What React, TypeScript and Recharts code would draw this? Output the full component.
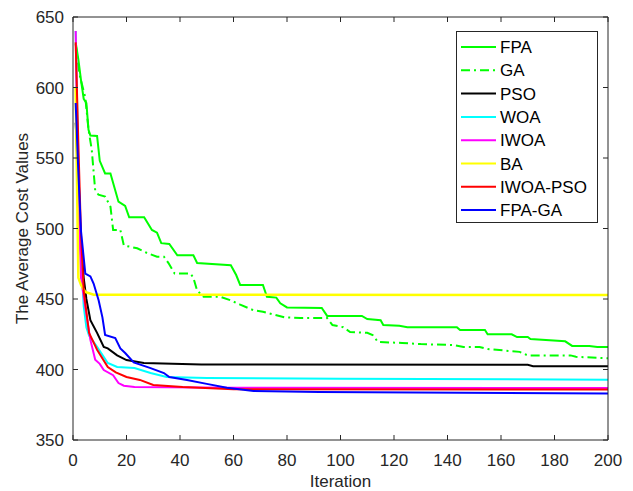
import React from 'react';
import { LineChart, Line, XAxis, YAxis, Legend } from 'recharts';

// iteration / average cost pairs
const FPA: [number, number][] = [
  [1, 632], [2, 620], [3, 605], [4, 592], [5, 589], [5.8, 570], [6.5, 566], [9, 565.6],
  [10, 548], [12, 539], [14, 539], [17, 519], [19.5, 516], [21, 508], [26.6, 508],
  [29.5, 499], [31.4, 497], [33, 489.6], [36, 489], [39, 481], [45, 481], [46.4, 475.5],
  [59, 474], [61, 467], [62.5, 460], [71, 460], [72.5, 451.6], [76, 451], [77.5, 447],
  [80, 444], [93, 443.6], [95, 438], [108, 438], [110, 435.8], [115, 435], [116, 431.5],
  [122, 431], [125, 430], [143.5, 430], [144.7, 428], [154, 428], [155, 425], [164, 425],
  [166, 423], [170, 423], [171, 421.6], [184, 420], [186.6, 416.7], [193, 416.7],
  [196, 416], [200, 416],
];

const GA: [number, number][] = [
  [1, 631], [2, 615], [2.7, 607], [4.6, 593], [5.8, 570], [7, 556], [8.3, 527], [9.5, 524],
  [12, 522.7], [14, 515.5], [15, 499], [17.7, 499], [19, 488], [21.5, 487], [24, 486],
  [27.7, 482.6], [31.4, 480], [34, 480], [35.7, 475.5], [38, 468], [44, 468], [45, 465],
  [46.4, 456], [48.8, 451.6], [55, 451.6], [59, 449], [62.5, 446], [67.5, 442], [71, 441],
  [75, 439], [79, 437], [85, 436.5], [95, 436.5], [97, 431.5], [101, 430], [103.6, 426.6],
  [110, 426], [112, 424.5], [114, 419.5], [123, 418.8], [130, 418], [142, 417.4],
  [146, 416], [152, 416], [155, 414.5], [167, 412.5], [170, 410], [186, 410], [188, 409],
  [200, 408],
];

const PSO: [number, number][] = [
  [1, 575], [2, 530], [3, 490], [4, 465], [5, 450], [6.5, 435], [9, 426], [11.5, 416],
  [13, 415], [16.5, 410], [20, 406.7], [26.5, 404.6], [48, 403.5], [170, 403.3],
  [172, 402.3], [200, 402.3],
];

const WOA: [number, number][] = [
  [1, 640], [2, 545], [3, 480], [4, 445], [5, 430], [6, 424], [9, 416], [13, 404.6],
  [16.5, 401.8], [23, 401], [29, 397.5], [35, 394.7], [50, 394], [100, 393.5], [200, 392.8],
];

const IWOA: [number, number][] = [
  [1, 640], [2, 520], [3, 465], [4.6, 444], [6.5, 421], [8.3, 407], [10, 404], [11.5, 399.6],
  [15, 396], [17, 390.4], [19, 388.5], [23, 387.6], [60, 387], [200, 386.8],
];

const BA: [number, number][] = [
  [1, 600], [2, 465], [3, 460], [4.6, 455], [7.7, 453], [200, 452.8],
];

const IWOA_PSO: [number, number][] = [
  [1, 632], [2, 560], [3, 495], [4, 456], [6, 426], [9, 414], [13, 401.8], [16, 398],
  [20, 394.7], [25, 392.6], [30, 389], [41, 387.6], [60, 386], [200, 385.8],
];

const FPA_GA: [number, number][] = [
  [1, 589], [2, 540], [3, 498], [4.6, 468], [6.5, 466], [7.7, 461], [9.6, 449], [11, 437],
  [12, 424.5], [15.8, 422.3], [17.7, 415], [19.5, 411.7], [22.7, 405], [29, 401],
  [34, 397.5], [36, 394.7], [42.6, 392.6], [50, 389.8], [57.5, 387], [67.5, 384.8],
  [92, 384], [200, 383],
];

const X_TICKS = [0, 20, 40, 60, 80, 100, 120, 140, 160, 180, 200];
const Y_TICKS = [350, 400, 450, 500, 550, 600, 650];

// BA sits on the mirrored top/right axes (same domains) so those axes get drawn too
const SERIES = [
  { name: 'FPA', points: FPA, color: '#00ff00' },
  { name: 'GA', points: GA, color: '#00ff00', dash: '9 4 2 4' },
  { name: 'PSO', points: PSO, color: '#000000' },
  { name: 'WOA', points: WOA, color: '#00ffff' },
  { name: 'IWOA', points: IWOA, color: '#ff00ff' },
  { name: 'BA', points: BA, color: '#ffff00', mirror: true },
  { name: 'IWOA-PSO', points: IWOA_PSO, color: '#ff0000' },
  { name: 'FPA-GA', points: FPA_GA, color: '#0000ff' },
];

const AXIS = '#262626';
const FONT = 17;
const TICK_LEN = 5;

const BottomTick = ({ x, y, payload }: any) => (
  <g>
    <line x1={x} x2={x} y1={y} y2={y - TICK_LEN} stroke={AXIS} />
    <text x={x} y={y} dy={26} textAnchor="middle" fill={AXIS} fontSize={FONT}>
      {payload.value}
    </text>
  </g>
);

const TopTick = ({ x, y }: any) => (
  <line x1={x} x2={x} y1={y} y2={y + TICK_LEN} stroke={AXIS} />
);

const LeftTick = ({ x, y, payload }: any) => (
  <g>
    <line x1={x} x2={x + TICK_LEN} y1={y} y2={y} stroke={AXIS} />
    <text x={x - 9} y={y} dy={6} textAnchor="end" fill={AXIS} fontSize={FONT}>
      {payload.value}
    </text>
  </g>
);

const RightTick = ({ x, y }: any) => (
  <line x1={x} x2={x - TICK_LEN} y1={y} y2={y} stroke={AXIS} />
);

const LegendBox = ({ payload }: any) => (
  <svg width={142} height={192} style={{ display: 'block' }}>
    <rect x={0.5} y={0.5} width={141} height={191} fill="#ffffff" stroke={AXIS} />
    {(payload || []).map((p: any, i: number) => {
      const cy = 16 + i * 23.3;
      return (
        <g key={p.value}>
          <line
            x1={5}
            x2={40}
            y1={cy}
            y2={cy}
            stroke={p.color}
            strokeWidth={2}
            strokeDasharray={p.payload?.strokeDasharray}
          />
          <text x={44} y={cy} dy={6} fontSize={FONT} fill="#000">
            {p.value}
          </text>
        </g>
      );
    })}
  </svg>
);

const seriesOrder = (item: any) => SERIES.findIndex((s) => s.name === item.value);

export default function App() {
  return (
    <div
      style={{
        position: 'absolute',
        left: 0,
        top: 0,
        background: '#fff',
        fontFamily: '"Liberation Sans", Arial, Helvetica, sans-serif',
      }}
    >
      <LineChart width={633} height={491} margin={{ top: 16, right: 24, bottom: 0, left: 0 }}>
        <XAxis
          dataKey="iter"
          type="number"
          domain={[0, 200]}
          ticks={X_TICKS}
          allowDataOverflow
          height={51}
          tickSize={0}
          tickMargin={0}
          tickLine={false}
          tick={<BottomTick />}
          axisLine={{ stroke: AXIS }}
          label={{ value: 'Iteration', position: 'insideBottom', offset: 4, fill: AXIS, fontSize: FONT }}
        />
        <XAxis
          xAxisId="top"
          dataKey="iter"
          orientation="top"
          type="number"
          domain={[0, 200]}
          ticks={X_TICKS}
          allowDataOverflow
          height={1}
          tickSize={0}
          tickMargin={0}
          tickLine={false}
          tick={<TopTick />}
          axisLine={{ stroke: AXIS }}
        />
        <YAxis
          type="number"
          domain={[350, 650]}
          ticks={Y_TICKS}
          allowDataOverflow
          width={73}
          tickSize={0}
          tickMargin={0}
          tickLine={false}
          tick={<LeftTick />}
          axisLine={{ stroke: AXIS }}
          label={{
            value: 'The Average Cost Values',
            angle: -90,
            position: 'insideLeft',
            offset: 22,
            fill: AXIS,
            fontSize: FONT,
            style: { textAnchor: 'middle' },
          }}
        />
        <YAxis
          yAxisId="right"
          orientation="right"
          type="number"
          domain={[350, 650]}
          ticks={Y_TICKS}
          allowDataOverflow
          width={1}
          tickSize={0}
          tickMargin={0}
          tickLine={false}
          tick={<RightTick />}
          axisLine={{ stroke: AXIS }}
        />
        {SERIES.map((s) => (
          <Line
            key={s.name}
            name={s.name}
            xAxisId={s.mirror ? 'top' : 0}
            yAxisId={s.mirror ? 'right' : 0}
            data={s.points.map(([iter, cost]) => ({ iter, cost }))}
            dataKey="cost"
            type="linear"
            stroke={s.color}
            strokeWidth={s.mirror ? 2.5 : 2}
            strokeDasharray={s.dash}
            dot={false}
            activeDot={false}
            isAnimationActive={false}
          />
        ))}
        <Legend
          layout="vertical"
          align="center"
          verticalAlign="middle"
          itemSorter={seriesOrder}
          wrapperStyle={{ top: 31, left: 456, width: 142 }}
          content={<LegendBox />}
        />
      </LineChart>
    </div>
  );
}
